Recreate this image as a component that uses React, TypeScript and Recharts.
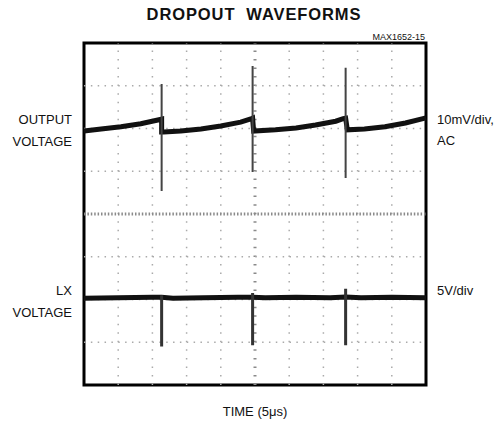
import React from 'react';
import { LineChart, Line, XAxis, YAxis, ReferenceLine, ReferenceArea } from 'recharts';

// scope screen: 10 horizontal divisions (time), 8 vertical divisions
const xGrid = [1, 2, 3, 4, 5, 6, 7, 8, 9];
const yGrid = [-3, -2, -1, 0, 1, 2, 3];

// output voltage trace (divisions)
const outTime = [0, 0.5, 1.08, 1.66, 2.16, 2.27, 2.27, 2.33, 2.83, 3.42, 4.0, 4.58, 4.9, 4.93, 4.96, 5.6, 6.2, 6.77, 7.36, 7.58, 7.65, 7.7, 8.2, 8.8, 9.4, 10];
const outVolt = [1.94, 1.99, 2.04, 2.11, 2.2, 2.22, 1.92, 1.92, 1.94, 1.99, 2.06, 2.15, 2.23, 2.24, 1.94, 1.97, 2.01, 2.08, 2.17, 2.23, 2.24, 1.97, 1.99, 2.04, 2.13, 2.25];

// output spikes: time, top, bottom
const outSpikeTime = [2.27, 4.93, 7.65];
const outSpikeTop = [3.04, 3.46, 3.42];
const outSpikeBottom = [0.54, 0.98, 0.84];

// LX voltage trace
const lxTime = [0, 1, 2, 2.27, 2.6, 3.5, 4.5, 4.93, 5.3, 6.2, 7.2, 7.65, 8.1, 9, 10];
const lxVolt = [-1.97, -1.96, -1.95, -1.95, -1.97, -1.96, -1.95, -1.95, -1.96, -1.95, -1.96, -1.94, -1.96, -1.95, -1.96];

const lxSpikeTime = [2.27, 4.93, 7.65];
const lxSpikeTop = [-1.9, -1.85, -1.75];
const lxSpikeBottom = [-3.1, -3.07, -3.07];

const outData = outTime.map((t, i) => ({ t, v: outVolt[i] }));
const lxData = lxTime.map((t, i) => ({ t, v: lxVolt[i] }));
const spikes = (ts: number[], tops: number[], bots: number[]) =>
  ts.flatMap((t, i) => [
    { t, v: tops[i] },
    { t, v: bots[i] },
    { t, v: null },
  ]);
const outSpikeData = spikes(outSpikeTime, outSpikeTop, outSpikeBottom);
const lxSpikeData = spikes(lxSpikeTime, lxSpikeTop, lxSpikeBottom);

const font = '"Liberation Sans", Arial, sans-serif';

const label = (text: string, x: number, y: number, align: 'left' | 'right' | 'center', size = 13) => {
  const style: React.CSSProperties = {
    position: 'absolute',
    top: y - size * 0.6,
    fontSize: size,
    lineHeight: `${size * 1.2}px`,
    color: '#111',
    whiteSpace: 'pre',
  };
  if (align === 'left') style.left = x;
  if (align === 'right') style.right = 504 - x;
  if (align === 'center') {
    style.left = x - 100;
    style.width = 200;
    style.textAlign = 'center';
  }
  return <div style={style}>{text}</div>;
};

export default function App() {
  return (
    <div style={{ position: 'absolute', left: 0, top: 0, width: 504, height: 422, background: '#fff', fontFamily: font }}>
      <div style={{ position: 'absolute', top: 5, left: 0, width: 508, textAlign: 'center', fontSize: 16.5, fontWeight: 700, letterSpacing: 0.9, whiteSpace: 'pre', color: '#111' }}>
        DROPOUT  WAVEFORMS
      </div>
      {label('MAX1652-15', 425, 37, 'right', 9)}
      {label('OUTPUT', 72, 120, 'right')}
      {label('VOLTAGE', 72, 142, 'right')}
      {label('10mV/div,', 437, 120, 'left')}
      {label('AC', 437, 141, 'left')}
      {label('LX', 72, 291, 'right')}
      {label('VOLTAGE', 72, 313, 'right')}
      {label('5V/div', 437, 291, 'left')}
      {label('TIME (5\u03bcs)', 255, 412, 'center')}

      <div style={{ position: 'absolute', left: 0, top: 0 }}>
        <LineChart width={504} height={422} margin={{ top: 43, right: 78, left: 84, bottom: 37 }}>
          <XAxis type="number" dataKey="t" domain={[0, 10]} hide allowDuplicatedCategory={false} />
          <YAxis type="number" dataKey="v" domain={[-4, 4]} hide />
          {xGrid.map((x) => (
            <ReferenceLine
              key={'x' + x}
              x={x}
              stroke={x === 5 ? '#8a8a8a' : '#aaaaaa'}
              strokeWidth={x === 5 ? 3 : 1.5}
              strokeDasharray="1.5 7.04"
            />
          ))}
          {yGrid.map((y) => (
            <ReferenceLine
              key={'y' + y}
              y={y}
              stroke={y === 0 ? '#8a8a8a' : '#aaaaaa'}
              strokeWidth={y === 0 ? 3 : 1.5}
              strokeDasharray={y === 0 ? '1.5 1.9' : '1.5 5.35'}
            />
          ))}
          <Line data={outData} dataKey="v" type="linear" stroke="#111" strokeWidth={5} dot={false} isAnimationActive={false} />
          <Line data={outSpikeData} dataKey="v" type="linear" stroke="#444" strokeWidth={2} dot={false} connectNulls={false} isAnimationActive={false} />
          <Line data={lxData} dataKey="v" type="linear" stroke="#111" strokeWidth={5} dot={false} isAnimationActive={false} />
          <Line data={lxSpikeData} dataKey="v" type="linear" stroke="#333" strokeWidth={3} dot={false} connectNulls={false} isAnimationActive={false} />
          <ReferenceArea x1={0} x2={10} y1={-4} y2={4} fill="none" stroke="#000" strokeWidth={3} />
        </LineChart>
      </div>
    </div>
  );
}
